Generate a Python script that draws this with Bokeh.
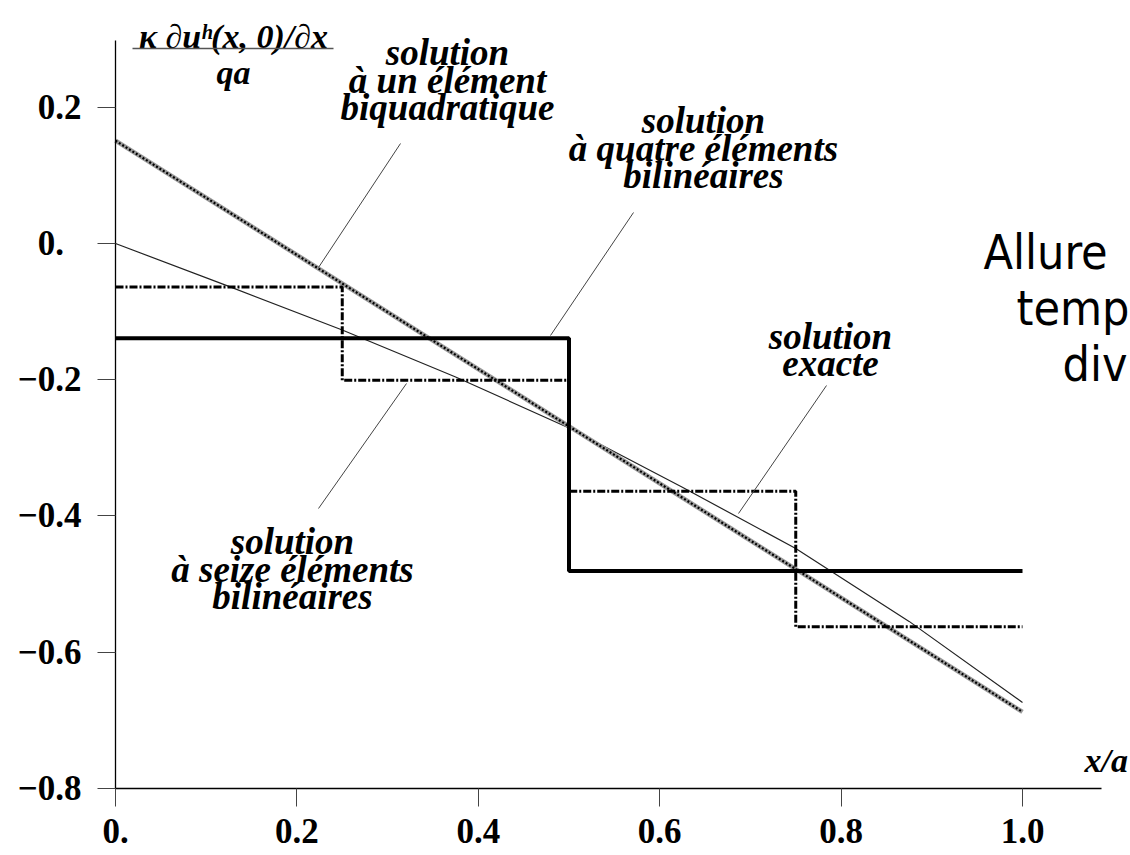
from bokeh.plotting import figure
from bokeh.models import Range1d, FixedTicker, LinearAxis, ColumnDataSource
from bokeh.core.properties import value
from bokeh.embed import file_html
from bokeh.resources import INLINE

# ---------------- data ----------------
x_exact = [0.0, 0.125, 0.25, 0.375, 0.5, 0.625, 0.75, 0.875, 1.0]
y_exact = [0.0, -0.063, -0.127, -0.196, -0.271, -0.358, -0.448, -0.555, -0.674]

x_biquad = [0.0, 1.0]
y_biquad = [0.151, -0.688]

edges_4 = [0.0, 0.5, 1.0]
vals_4 = [-0.139, -0.481]

edges_16 = [0.0, 0.25, 0.5, 0.75, 1.0]
vals_16 = [-0.064, -0.201, -0.364, -0.563]

x_ticks = [0.0, 0.2, 0.4, 0.6, 0.8, 1.0]
x_tick_labels = ["0.", "0.2", "0.4", "0.6", "0.8", "1.0"]
y_ticks = [-0.8, -0.6, -0.4, -0.2, 0.0, 0.2]
y_tick_labels = ["\u22120.8", "\u22120.6", "\u22120.4", "\u22120.2", "0.\u2007", "0.2"]

label_bq = ["solution", "à un élément", "biquadratique"]
label_4 = ["solution", "à quatre éléments", "bilinéaires"]
label_ex = ["solution", "exacte"]
label_16 = ["solution", "à seize éléments", "bilinéaires"]
y_title_num = "\u03ba \u2202u\u02b0(x, 0)/\u2202x"
y_title_den = "qa"
x_title = "x/a"
side_text = ["Allure", "temp", "div"]

# ---------------- layout ----------------
W, H = 1130, 855
X0, SX = 115.0, 907.0      # canvas px of x = 0, px per unit
Y0, SY = 243.0, 680.875    # canvas px of y = 0, px per unit


def dx(sx):
    return (sx - X0) / SX


def dy(sy):
    return (Y0 - sy) / SY


p = figure(width=W, height=H,
           x_range=Range1d(-X0 / SX, (W - X0) / SX),
           y_range=Range1d((Y0 - H) / SY, Y0 / SY),
           output_backend="svg", toolbar_location=None,
           x_axis_type=None, y_axis_type=None, min_border=0)
p.outline_line_color = None
p.background_fill_color = "white"
p.border_fill_color = "white"

xaxis = LinearAxis(fixed_location=-0.8, bounds=(0.0, 1.087),
                   ticker=FixedTicker(ticks=x_ticks),
                   major_label_overrides=dict(zip(x_ticks, x_tick_labels)))
yaxis = LinearAxis(fixed_location=0.0, bounds=(-0.8, 0.298),
                   ticker=FixedTicker(ticks=y_ticks),
                   major_label_overrides=dict(zip(y_ticks, y_tick_labels)))
for ax in (xaxis, yaxis):
    ax.axis_line_color = "black"
    ax.axis_line_width = 1.3
    ax.major_tick_line_color = "#444444"
    ax.major_tick_line_width = 1
    ax.major_tick_out = 18
    ax.major_tick_in = 0
    ax.minor_tick_line_color = None
    ax.major_label_text_font = "Liberation Serif"
    ax.major_label_text_font_style = "bold"
    ax.major_label_text_font_size = "35px"
    ax.major_label_text_color = "black"
xaxis.major_label_standoff = 13
yaxis.major_label_standoff = 16
p.add_layout(xaxis, "below")
p.add_layout(yaxis, "left")


def step_path(edges, vals):
    xs, ys = [], []
    for i, v in enumerate(vals):
        xs += [edges[i], edges[i + 1]]
        ys += [v, v]
    return xs, ys


# exact solution
p.line(x_exact, y_exact, line_color="#222222", line_width=1.2)

# one biquadratic element
p.line(x_biquad, y_biquad, line_color="#9a9a9a", line_width=4.5)
p.line(x_biquad, y_biquad, line_color="black", line_width=2.2, line_dash="2 2")

# sixteen bilinear elements
x16, y16 = step_path(edges_16, vals_16)
p.line(x16, y16, line_color="black", line_width=3, line_dash="8 2 2 2")

# four bilinear elements
x4, y4 = step_path(edges_4, vals_4)
p.line(x4, y4, line_color="black", line_width=4)

# callout lines (picture positions -> data)
callouts = [((400, 143), (318, 267)),
            ((633, 212), (550, 335)),
            ((826, 385), (738, 513)),
            ((406, 383), (318, 508))]
p.segment(x0=[dx(a[0]) for a, b in callouts], y0=[dy(a[1]) for a, b in callouts],
          x1=[dx(b[0]) for a, b in callouts], y1=[dy(b[1]) for a, b in callouts],
          line_color="#444444", line_width=1)

# annotation texts
groups = [(label_bq, 447, [52, 80, 107]),
          (label_4, 703, [120, 148, 175]),
          (label_ex, 830, [336, 363]),
          (label_16, 292, [541, 569, 596])]
tx, ty, tt = [], [], []
for lines, cx, bases in groups:
    for s, b in zip(lines, bases):
        tx.append(dx(cx))
        ty.append(dy(b))
        tt.append(s)
src = ColumnDataSource(dict(x=tx, y=ty, text=tt))
p.text(x="x", y="y", text="text", source=src, text_align="center",
       text_baseline="alphabetic", text_font=value("Liberation Serif"),
       text_font_style="bold italic", text_font_size="37px", text_color="black")

# y title (fraction)
p.text(x=[dx(233), dx(233)], y=[dy(36), dy(72)], text=[y_title_num, y_title_den],
       text_align="center", text_baseline="alphabetic",
       text_font=value("Liberation Serif"), text_font_style="bold italic",
       text_font_size="34px", text_color="black")
p.segment(x0=[dx(132)], y0=[dy(48)], x1=[dx(333)], y1=[dy(48)],
          line_color="#555555", line_width=1.5)

# x axis title
p.text(x=[dx(1084)], y=[dy(760)], text=[x_title], text_align="left",
       text_baseline="alphabetic", text_font=value("Liberation Serif"),
       text_font_style="bold italic", text_font_size="34px", text_color="black")

# side text (visible part of a title that runs off the page)
p.text(x=[dx(983), dx(1016), dx(1062)], y=[dy(251), dy(307), dy(363)],
       text=side_text, text_align="left", text_baseline="alphabetic",
       text_font=value("DejaVu Sans Condensed, DejaVu Sans"),
       text_font_size="48px", text_color="black")

open("out.html", "w").write(file_html(p, INLINE))
